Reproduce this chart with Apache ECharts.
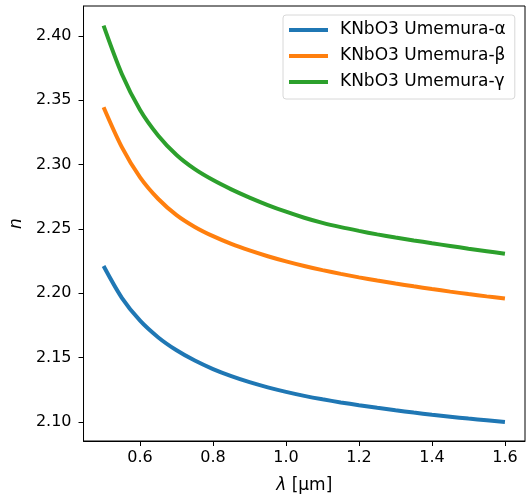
<!DOCTYPE html>
<html>
<head>
<meta charset="utf-8">
<script src="https://cdn.jsdelivr.net/npm/echarts@6/dist/echarts.min.js"></script>
<style>html,body{margin:0;padding:0;background:#fff}#c{width:531px;height:503px}</style>
</head>
<body>
<div id="c"></div>
<script>
var wavelengths = [0.5, 0.55, 0.6, 0.65, 0.7, 0.75, 0.8, 0.85, 0.9, 0.95, 1.0, 1.05, 1.1, 1.15, 1.2, 1.25, 1.3, 1.35, 1.4, 1.45, 1.5, 1.55, 1.6];
var nAlpha = [2.2212, 2.1965, 2.1787, 2.1657, 2.1557, 2.1477, 2.1411, 2.1356, 2.1309, 2.1269, 2.1234, 2.1203, 2.1176, 2.1152, 2.1130, 2.1110, 2.1091, 2.1073, 2.1056, 2.1041, 2.1026, 2.1013, 2.1000];
var nBeta  = [2.3446, 2.3136, 2.2901, 2.2733, 2.2608, 2.2516, 2.2444, 2.2384, 2.2333, 2.2288, 2.2248, 2.2212, 2.2180, 2.2151, 2.2124, 2.2099, 2.2076, 2.2054, 2.2033, 2.2013, 2.1994, 2.1976, 2.1959];
var nGamma = [2.4080, 2.3705, 2.3425, 2.3225, 2.3075, 2.2965, 2.2880, 2.2808, 2.2744, 2.2686, 2.2634, 2.2587, 2.2547, 2.2514, 2.2485, 2.2458, 2.2434, 2.2411, 2.2389, 2.2368, 2.2347, 2.2327, 2.2307];
var seriesNames = ['KNbO3 Umemura-α', 'KNbO3 Umemura-β', 'KNbO3 Umemura-γ'];
var xTicks = [0.6, 0.8, 1.0, 1.2, 1.4, 1.6];
var yTicks = [2.10, 2.15, 2.20, 2.25, 2.30, 2.35, 2.40];

function pairs(ys) { return wavelengths.map(function (x, i) { return [x, ys[i]]; }); }
var colors = ['#1f77b4', '#ff7f0e', '#2ca02c'];
var font = 'DejaVu Sans';
var chart = echarts.init(document.getElementById('c'));
chart.setOption({
  animation: false,
  backgroundColor: '#fff',
  grid: { left: 78, top: 6, right: 6, bottom: 62, show: true, borderColor: '#000', borderWidth: 1, backgroundColor: 'transparent' },
  legend: {
    orient: 'vertical', left: 283, top: 15,
    padding: [5, 9, 7, 6],
    itemWidth: 39, itemHeight: 4, itemGap: 6,
    icon: 'rect',
    borderColor: '#d8d8d8', borderWidth: 1, borderRadius: 3,
    backgroundColor: 'rgba(255,255,255,0.8)',
    textStyle: { fontFamily: font, fontSize: 17, color: '#000', lineHeight: 20, padding: [0, 0, 0, 7] },
    data: seriesNames
  },
  xAxis: {
    type: 'value', min: 0.445, max: 1.655,
    name: '{i|λ} [µm]', nameLocation: 'middle', nameGap: 36,
    nameTextStyle: { fontFamily: font, fontSize: 17, color: '#000', rich: { i: { fontStyle: 'italic', fontFamily: font, fontSize: 17 } } },
    axisLine: { show: true, lineStyle: { color: '#000', width: 1 } },
    axisTick: { show: true, length: 5, customValues: xTicks, lineStyle: { color: '#000' } },
    axisLabel: { customValues: xTicks, margin: 9, fontFamily: font, fontSize: 16, color: '#000', formatter: function (v) { return v.toFixed(1); } },
    splitLine: { show: false }
  },
  yAxis: {
    type: 'value', min: 2.0852, max: 2.4233,
    name: 'n', nameLocation: 'middle', nameGap: 56,
    nameTextStyle: { fontFamily: font, fontSize: 17, fontStyle: 'italic', color: '#000' },
    axisLine: { show: true, lineStyle: { color: '#000', width: 1 } },
    axisTick: { show: true, length: 5, customValues: yTicks, lineStyle: { color: '#000' } },
    axisLabel: { customValues: yTicks, margin: 12, fontFamily: font, fontSize: 16, color: '#000', formatter: function (v) { return v.toFixed(2); } },
    splitLine: { show: false }
  },
  series: [nAlpha, nBeta, nGamma].map(function (ys, i) {
    return {
      name: seriesNames[i], type: 'line', data: pairs(ys),
      showSymbol: false, smooth: 0.3,
      color: colors[i],
      lineStyle: { width: 4, color: colors[i] },
      itemStyle: { color: colors[i] }
    };
  })
});
</script>
</body>
</html>
